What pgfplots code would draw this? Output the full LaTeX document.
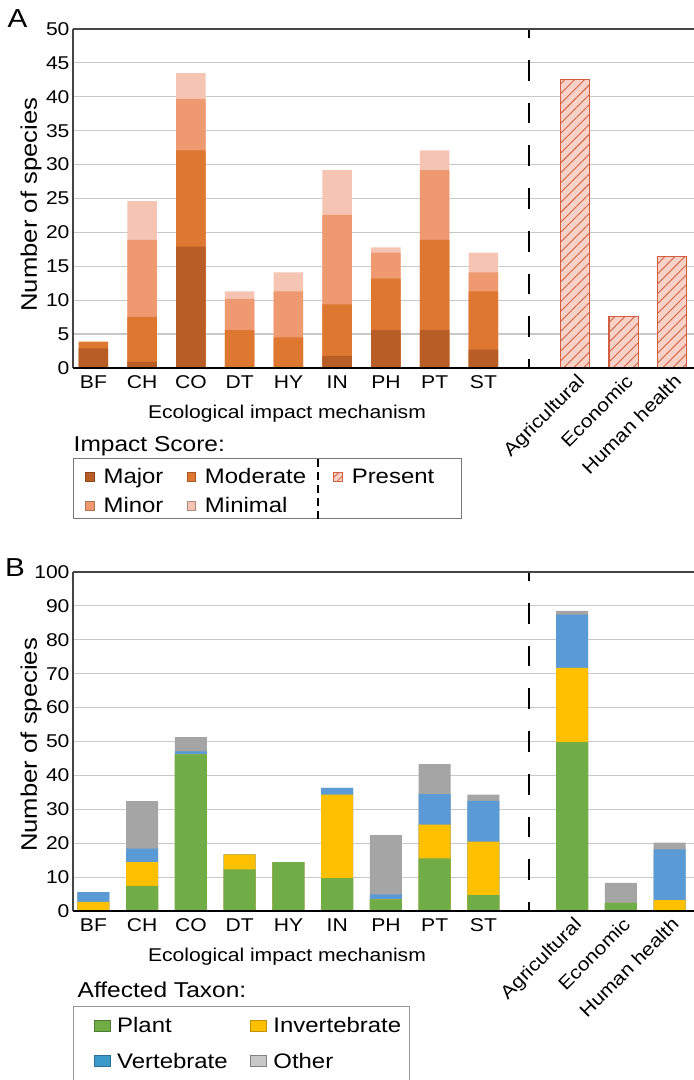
\documentclass[border=0pt]{standalone}
\usepackage{fontspec}
\setmainfont{Liberation Sans}[FakeStretch=1.14]
\usepackage{pgfplots}
\pgfplotsset{compat=1.18}
\usetikzlibrary{patterns.meta}
\definecolor{cMaj}{RGB}{185,93,38}
\definecolor{cMod}{RGB}{222,119,48}
\definecolor{cMin}{RGB}{238,153,112}
\definecolor{cMinl}{RGB}{245,196,178}
\definecolor{cPres}{RGB}{248,210,198}
\definecolor{cHatch}{RGB}{210,95,65}
\definecolor{cPlant}{RGB}{112,173,71}
\definecolor{cInv}{RGB}{255,192,0}
\definecolor{cVert}{RGB}{91,155,213}
\definecolor{cOth}{RGB}{165,165,165}
\definecolor{cGrid}{RGB}{200,200,200}
\definecolor{cAx}{RGB}{70,70,70}
\pgfplotsset{
  swA/.style={legend image code/.code={\path[draw=none,fill=none,pattern=none,postaction={}] (0pt,0pt) (18pt,0pt);\draw[##1] (0pt,-5.3pt) rectangle (8.5pt,3pt);}},
  swB/.style={legend image code/.code={\path[draw=none,fill=none] (0pt,0pt) (23.5pt,0pt);\draw[##1] (0pt,-5.5pt) rectangle (16.7pt,5.5pt);}},
  common/.style={
    scale only axis, width=621pt, height=339pt, anchor=south west,
    xmin=-0.42, xmax=12.32,
    axis lines=left, axis line style={-},
    x axis line style={black, line width=1.6pt},
    y axis line style={cAx, line width=1.2pt},
    major tick length=0pt, tick style={draw=none},
    ymajorgrids, major grid style={cGrid, line width=1.2pt},
    /pgf/number format/assume math mode=true,
    yticklabel style={font=\fontsize{18.5}{21}\selectfont},
    xtick={0,1,2,3,4,5,6,7,8},
    xticklabels={BF,CH,CO,DT,HY,IN,PH,PT,ST},
    xticklabel style={font=\fontsize{18.5}{21}\selectfont, inner sep=0pt, text height=13.3pt, text depth=0pt, yshift=-7pt},
    extra x tick labels={Agricultural,Economic,Human health},
    extra x tick style={grid=none, tick label style={xshift=-4pt, yshift=0pt, rotate=45, anchor=north east}},
    xlabel={Ecological impact mechanism},
    xlabel style={font=\fontsize{18.5}{22}\selectfont, at={(axis description cs:0.3446,-0.1475)}, anchor=base, inner sep=0pt},
    ylabel={Number of species},
    ylabel style={font=\fontsize{22.5}{26}\selectfont, anchor=center, inner sep=0pt},
    ybar,
    legend style={draw=none, fill=none, inner sep=0pt, column sep=0pt,
      font=\fontsize{21}{24}\selectfont,
      nodes={inner sep=0pt, text height=18pt, text depth=3pt},
      cells={anchor=west}, anchor=north west},
  }
}
\begin{document}
\begin{tikzpicture}
\useasboundingbox (0pt,0pt) rectangle (694pt,1080pt);
% ---------------- Panel A
\begin{axis}[common, at={(73pt,712pt)},
  ymin=0, ymax=50, ytick={0,5,...,50},
  every axis plot post/.append style={bar shift=0pt, bar width=29.5pt},
  extra x ticks={9.88,10.88,11.87},
  ylabel style={at={(axis description cs:-0.0676,0.482)}},
  legend columns=3,
  legend style={row sep=8pt, at={(axis description cs:0.01932,-0.2861)}}]
% cumulative tops of the stacked segments
\addplot[fill=cMinl, draw=none, forget plot] coordinates {(1,24.6) (2,43.5) (3,11.3) (4,14.1) (5,29.2) (6,17.8) (7,32.1) (8,17.0)};
\addplot[fill=cMin, draw=none, forget plot] coordinates {(1,18.9) (2,39.7) (3,10.2) (4,11.3) (5,22.6) (6,17.0) (7,29.2) (8,14.1)};
\addplot[fill=cMod, draw=none, forget plot] coordinates {(0,3.9) (1,7.5) (2,32.1) (3,5.6) (4,4.5) (5,9.4) (6,13.2) (7,18.9) (8,11.3)};
\addplot[fill=cMaj, draw=none, forget plot] coordinates {(0,2.9) (1,0.9) (2,17.9) (5,1.8) (6,5.6) (7,5.6) (8,2.7)};
\addplot[fill=cPres, draw=cHatch, line width=1.2pt, forget plot,
  postaction={pattern={Lines[angle=45,distance=7pt,line width=0.9pt]}, pattern color=cHatch}]
  coordinates {(9.88,42.5) (10.88,7.6) (11.87,16.5)};
\addplot[sharp plot, black, line width=1.8pt, dash pattern=on 20.7pt off 22pt, dash phase=11.7pt, forget plot] coordinates {(8.93,0) (8.93,50)};
\addplot[sharp plot, black, line width=1.6pt, forget plot] coordinates {(-0.42,0) (12.32,0)};
\draw[cAx, line width=1.2pt] (rel axis cs:0,1) -- (rel axis cs:1,1);
\addlegendimage{swA, fill=cMaj, draw=cMaj!75!black}
\addlegendentry{\makebox[83pt][l]{Major}}
\addlegendimage{swA, fill=cMod, draw=cMod!75!black}
\addlegendentry{\makebox[128pt][l]{Moderate}}
\addlegendimage{swA, fill=cPres, draw=cHatch, postaction={pattern={Lines[angle=45,distance=5pt,line width=0.8pt]}, pattern color=cHatch}}
\addlegendentry{Present}
\addlegendimage{swA, fill=cMin, draw=cMin!75!black}
\addlegendentry{\makebox[83pt][l]{Minor}}
\addlegendimage{swA, fill=cMinl, draw=cMinl!70!black}
\addlegendentry{\makebox[128pt][l]{Minimal}}
\addlegendimage{empty legend}
\addlegendentry{}
\end{axis}
% ---------------- Panel B
\begin{axis}[common, at={(73pt,169pt)},
  ymin=0, ymax=100, ytick={0,10,...,100},
  every axis plot post/.append style={bar shift=0pt, bar width=32pt},
  extra x ticks={9.82,10.82,11.82},
  ylabel style={at={(axis description cs:-0.0676,0.49)}},
  legend columns=2,
  legend style={row sep=14.5pt, at={(axis description cs:0.0327,-0.3059)}}]
\addplot[fill=cOth, draw=none, forget plot] coordinates {(0,5.6) (1,32.4) (2,51.3) (3,16.7) (4,14.4) (5,36.3) (6,22.4) (7,43.3) (8,34.3) (9.82,88.5) (10.82,8.3) (11.82,20.2)};
\addplot[fill=cVert, draw=none, forget plot] coordinates {(0,5.6) (1,18.4) (2,47.1) (3,16.7) (4,14.4) (5,36.3) (6,4.9) (7,34.5) (8,32.5) (9.82,87.4) (10.82,2.4) (11.82,18.2)};
\addplot[fill=cInv, draw=none, forget plot] coordinates {(0,2.7) (1,14.4) (2,46.2) (3,16.7) (4,14.4) (5,34.3) (6,3.4) (7,25.5) (8,20.5) (9.82,71.7) (10.82,2.4) (11.82,3.2)};
\addplot[fill=cPlant, draw=none, forget plot] coordinates {(1,7.4) (2,46.2) (3,12.3) (4,14.4) (5,9.7) (6,3.4) (7,15.5) (8,4.7) (9.82,49.8) (10.82,2.4)};
\addplot[sharp plot, black, line width=1.8pt, dash pattern=on 20.7pt off 22pt, dash phase=11.7pt, forget plot] coordinates {(8.93,0) (8.93,100)};
\addplot[sharp plot, black, line width=1.6pt, forget plot] coordinates {(-0.42,0) (12.32,0)};
\draw[cAx, line width=1.2pt] (rel axis cs:0,1) -- (rel axis cs:1,1);
\addlegendimage{swB, fill=cPlant, draw=cPlant!70!black}
\addlegendentry{\makebox[132.5pt][l]{Plant}}
\addlegendimage{swB, fill=cInv, draw=cInv!75!black}
\addlegendentry{Invertebrate}
\addlegendimage{swB, fill={rgb,255:red,58;green,154;blue,201}, draw={rgb,255:red,40;green,110;blue,150}}
\addlegendentry{\makebox[132.5pt][l]{Vertebrate}}
\addlegendimage{swB, fill={rgb,255:red,200;green,200;blue,200}, draw={rgb,255:red,130;green,130;blue,130}}
\addlegendentry{Other}
\end{axis}
% ---------------- panel letters, legend titles and frames
\node[anchor=base west, inner sep=0pt, font=\fontsize{26}{30}\selectfont] at (7.5pt,1052.3pt) {A};
\node[anchor=base west, inner sep=0pt, font=\fontsize{26}{30}\selectfont] at (5pt,503pt) {B};
\node[anchor=base west, inner sep=0pt, font=\fontsize{21.5}{25}\selectfont] at (73.5pt,628pt) {Impact Score:};
\draw[color={rgb,255:red,120;green,120;blue,120}, line width=1pt] (73pt,621pt) rectangle (461pt,561pt);
\draw[black, line width=1.5pt, dash pattern=on 8pt off 5pt] (318pt,621pt) -- (318pt,561pt);
\node[anchor=base west, inner sep=0pt, font=\fontsize{21.5}{25}\selectfont] at (77.5pt,82pt) {Affected Taxon:};
\draw[color={rgb,255:red,150;green,150;blue,150}, line width=1pt] (73pt,73pt) rectangle (409pt,-20pt);
\end{tikzpicture}
\end{document}
